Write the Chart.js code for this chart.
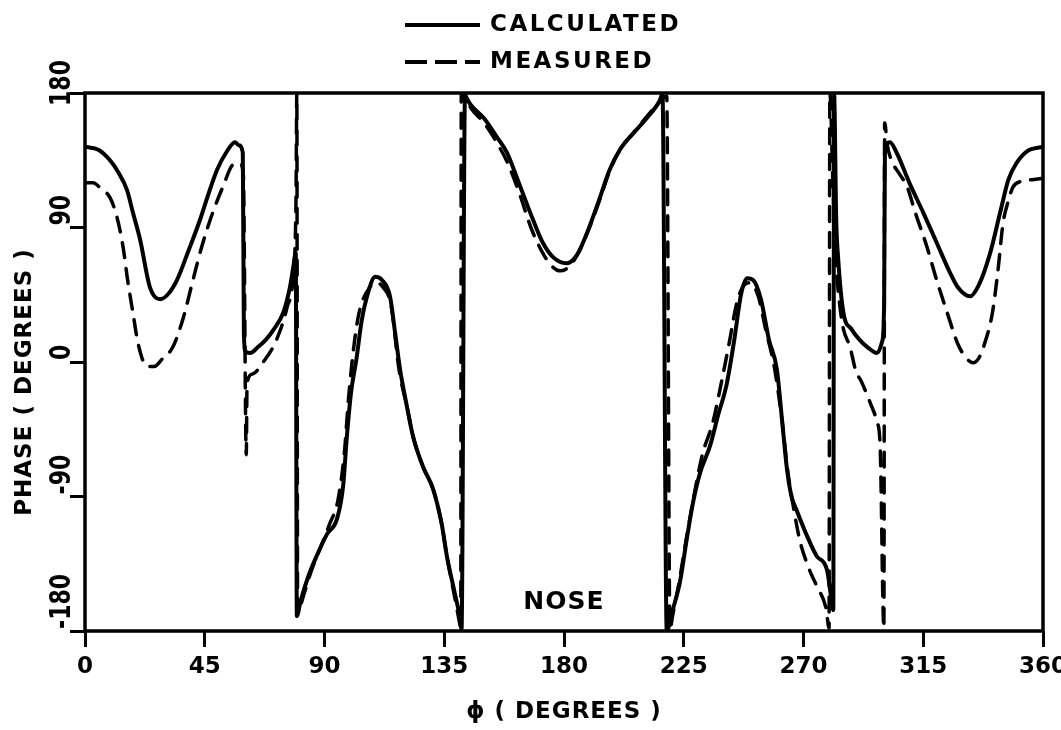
<!DOCTYPE html>
<html>
<head>
<meta charset="utf-8">
<title>Phase vs phi</title>
<script src="https://cdn.jsdelivr.net/npm/chart.js@4.4.1/dist/chart.umd.min.js"></script>
<style>
  html, body { margin: 0; padding: 0; background: #fff; }
  canvas { display: block; }
</style>
</head>
<body>
<canvas id="graficoFase" width="1061" height="730"></canvas>
<script>
/* =========================
   DATOS
========================= */

const ticksPhi = [0, 45, 90, 135, 180, 225, 270, 315, 360];
const ticksFase = [-180, -90, 0, 90, 180];

const series = ["CALCULATED", "MEASURED"];
const textoNariz = "NOSE";
const posNariz = [180, -161];

// Curva calculada (trazo continuo)
const calcPhi = [
  0, 5, 9.4, 12.5, 15.8, 18, 20.7, 24.4, 28.2, 31,
  34.6, 39, 43.2, 46.5, 49.6, 53, 56.4, 57.8, 59.3, 59.7,
  60.3, 62, 65, 68, 71, 74.5, 77, 78.4, 79.2, 79.6,
  81, 84, 87, 91, 94.7, 97, 98.4, 100, 102, 104,
  106, 109, 111.5, 114.6, 116.5, 118.4, 121, 123.3, 127, 130.8,
  134, 136, 139, 141, 141.5, 142.8, 143.3, 145, 150, 155,
  158.6, 163, 168.4, 172, 176, 181, 185, 189, 193.5, 197,
  201, 206, 211, 216, 217, 218.6, 221, 223.6, 226, 228.5,
  231, 234.9, 238, 241, 244, 246.5, 248.8, 251, 254, 257,
  260, 262, 263.8, 265.5, 267.6, 271, 275, 278.8, 280.6, 281.2,
  281.5, 282.3, 283, 285, 288, 291, 294, 297.6, 299.6, 300.3,
  300.6, 302.5, 305, 310, 315, 320, 325, 328, 332.6, 336,
  340, 343.9, 347, 350, 354, 360
];
const calcFase = [
  144, 142, 135, 127, 115, 100, 82, 50, 42, 45,
  55, 75, 95, 113, 128.5, 140, 147, 145, 140, 20,
  7, 6, 10, 15, 22, 33, 50, 65, 73, -170,
  -160, -143, -130, -115, -105, -83, -50, -20, 2, 28,
  44, 57, 55, 44, 20, -5, -30, -50, -70, -85,
  -108, -130, -155, -172, -179, 179, 177, 172, 163, 150,
  140, 120, 95, 80, 70, 66, 72, 88, 110, 128,
  142, 153, 163, 175, 179.5, -179.5, -165, -147, -120, -94,
  -75, -56, -35, -16, 15, 45, 56, 55, 42, 15,
  -5, -40, -72, -90, -100, -115, -130, -139, -160, -166,
  179, 95, 70, 33, 22, 15, 10, 6, 14, 40,
  140, 147, 140, 119, 100, 80, 60, 50, 44, 52,
  72, 100, 122, 133, 141, 144
];

// Curva medida (trazo discontinuo)
const medPhi = [
  0, 3, 6, 9.4, 12, 14.3, 16, 18, 20, 23.3,
  26, 29, 33, 37, 40.6, 44, 48, 52, 55.6, 58.2,
  59.5, 60.6, 60.9, 63, 67, 72, 76, 78.3, 79.3, 79.6,
  79.9, 82, 85, 88.3, 92, 95, 97.5, 99, 101, 103,
  107, 109.6, 112, 115, 118, 121, 123.3, 127, 130.8, 134,
  136, 139, 140.8, 141.2, 141.4, 143, 145, 150, 155, 158.6,
  163, 168, 172, 175, 178.5, 182, 186, 190, 193.5, 197,
  201, 206, 211, 216, 218.6, 219.8, 221, 223, 226, 229,
  232, 236, 239, 242, 245, 248, 250, 253, 256, 259,
  262, 264, 266.5, 268.7, 272, 275, 278.5, 279.6, 279.9, 281.2,
  282.5, 283.7, 285, 287.5, 289.5, 292, 295, 297.6, 298.8, 300.2,
  300.5, 301.5, 303.6, 306, 309, 312, 316.4, 320, 324, 328,
  331, 333.7, 336, 338, 341, 343, 345, 347, 348.7, 352,
  356, 360
];
const medFase = [
  120, 120, 116, 110, 97, 77, 55, 33, 12, -3,
  -3, 2, 10, 30, 55, 78, 100, 118, 132, 133,
  125, -62, -14, -8, 0, 15, 37, 60, 110, 180,
  -168, -157, -140, -125, -108, -93, -60, -25, 10, 33,
  50, 53, 50, 38, -5, -30, -50, -70, -85, -108,
  -130, -158, -175, -179, 180, 177, 170, 160, 146, 134,
  114, 88, 73, 65, 61, 64, 75, 92, 109, 127,
  142, 153, 164, 174, 178, -178, -168, -150, -118, -88,
  -62, -40, -15, 12, 40, 52, 53, 44, 20, -3,
  -40, -72, -100, -120, -138, -150, -165, -178, 180, 110,
  60, 37, 22, 10, -5, -14, -27, -40, -56, -178,
  160, 145, 133, 126, 117, 100, 77, 55, 33, 12,
  3, -0.5, 3, 12, 33, 60, 93, 108, 117, 121,
  122, 123
];

/* =========================
   ESTILO
========================= */

const TINTA = "#000";
const FUENTE = '"DejaVu Sans", "Liberation Sans", sans-serif';

function pares(xs, ys) {
  return xs.map((x, i) => ({ x, y: ys[i] }));
}

/* =========================
   PLUGINS: fondo, marco y rótulos
========================= */

const fondoBlanco = {
  id: "fondoBlanco",
  beforeDraw(chart) {
    const { ctx, width, height } = chart;
    ctx.save();
    ctx.fillStyle = "#fff";
    ctx.fillRect(0, 0, width, height);
    ctx.restore();
  }
};

const rotulos = {
  id: "rotulos",
  afterDraw(chart) {
    const { ctx, chartArea: a, scales: { x, y } } = chart;
    ctx.save();
    ctx.strokeStyle = TINTA;
    ctx.fillStyle = TINTA;

    // marco completo del gráfico
    ctx.lineWidth = 3.5;
    ctx.strokeRect(a.left, a.top, a.right - a.left, a.bottom - a.top);

    // números del eje vertical, girados y algo estrechos
    const estrecho = 0.76;
    ctx.font = "bold 29px " + FUENTE;
    ctx.textAlign = "left";
    ctx.textBaseline = "middle";
    y.ticks.forEach(t => {
      const py = y.getPixelForValue(t.value);
      const txt = String(t.value);
      const largo = ctx.measureText(txt).width * estrecho;
      const ini = Math.min(2, py - 60 - largo);
      ctx.save();
      ctx.translate(a.left - 23, py - ini);
      ctx.rotate(-Math.PI / 2);
      ctx.scale(estrecho, 1);
      ctx.fillText(txt, 0, 0);
      ctx.restore();
    });

    // título eje vertical
    ctx.save();
    ctx.font = "bold 23px " + FUENTE;
    ctx.letterSpacing = "1px";
    ctx.textAlign = "center";
    ctx.translate(25, (a.top + a.bottom) / 2 + 20);
    ctx.rotate(-Math.PI / 2);
    ctx.fillText("PHASE ( DEGREES )", 0, 0);
    ctx.restore();

    // título eje horizontal
    ctx.save();
    ctx.font = "bold 23px " + FUENTE;
    ctx.letterSpacing = "1px";
    ctx.textAlign = "center";
    ctx.textBaseline = "middle";
    ctx.fillText("\u03D5 ( DEGREES )", (a.left + a.right) / 2, 712);
    ctx.restore();

    // rótulo NOSE
    ctx.save();
    ctx.font = "bold 25px " + FUENTE;
    ctx.letterSpacing = "1px";
    ctx.textAlign = "center";
    ctx.textBaseline = "middle";
    ctx.fillText(textoNariz, x.getPixelForValue(posNariz[0]), y.getPixelForValue(posNariz[1]));
    ctx.restore();

    // leyenda arriba
    const filas = [25, 62];
    chart.data.datasets.forEach((ds, i) => {
      ctx.save();
      ctx.lineWidth = 4;
      ctx.setLineDash(ds.borderDash ? [22, 8] : []);
      ctx.beginPath();
      ctx.moveTo(405, filas[i]);
      ctx.lineTo(480, filas[i]);
      ctx.stroke();
      ctx.setLineDash([]);
      ctx.font = "bold 23px " + FUENTE;
      ctx.letterSpacing = "2.5px";
      ctx.textAlign = "left";
      ctx.textBaseline = "middle";
      ctx.fillText(ds.label, 490, filas[i]);
      ctx.restore();
    });

    ctx.restore();
  }
};

/* =========================
   GRÁFICO
========================= */

const comunLinea = {
  borderColor: TINTA,
  pointRadius: 0,
  cubicInterpolationMode: "monotone",
  borderCapStyle: "round",
  borderJoinStyle: "round",
  fill: false
};

new Chart(document.getElementById("graficoFase"), {
  type: "line",
  data: {
    datasets: [
      { ...comunLinea, label: series[0], data: pares(calcPhi, calcFase), borderWidth: 4 },
      { ...comunLinea, label: series[1], data: pares(medPhi, medFase), borderWidth: 3.5, borderDash: [15, 11] }
    ]
  },
  options: {
    responsive: false,
    animation: false,
    events: [],
    layout: { padding: { top: 93, right: 18, left: 0, bottom: 0 } },
    plugins: {
      legend: { display: false },
      tooltip: { enabled: false }
    },
    scales: {
      x: {
        type: "linear",
        min: 0,
        max: 360,
        afterBuildTicks: s => { s.ticks = ticksPhi.map(v => ({ value: v })); },
        afterFit: s => { s.height = 99; s.paddingLeft = 0; s.paddingRight = 0; },
        ticks: {
          color: TINTA,
          font: { family: FUENTE, weight: "bold", size: 23 },
          padding: 6,
          maxRotation: 0,
          autoSkip: false
        },
        grid: { drawOnChartArea: false, tickLength: 16, tickWidth: 3, tickColor: TINTA },
        border: { display: false }
      },
      y: {
        type: "linear",
        min: -180,
        max: 180,
        afterBuildTicks: s => { s.ticks = ticksFase.map(v => ({ value: v })); },
        afterFit: s => { s.width = 85; s.paddingTop = 0; s.paddingBottom = 0; },
        ticks: { display: false },
        grid: { drawOnChartArea: false, tickLength: 15, tickWidth: 3, tickColor: TINTA },
        border: { display: false }
      }
    }
  },
  plugins: [fondoBlanco, rotulos]
});
</script>
</body>
</html>
